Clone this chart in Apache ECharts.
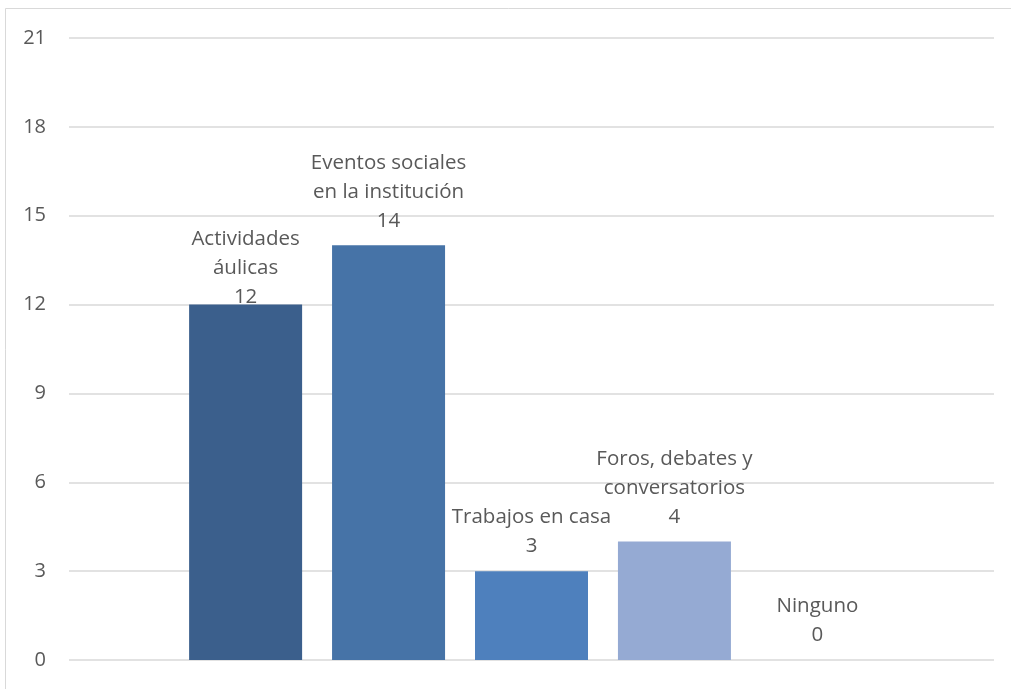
<!DOCTYPE html>
<html>
<head>
<meta charset="utf-8">
<script src="https://cdn.jsdelivr.net/npm/echarts@6/dist/echarts.min.js"></script>
<style>
  html, body { margin: 0; padding: 0; background: #fff; }
  #chart { width: 1011px; height: 689px; }
</style>
</head>
<body>
<div id="chart"></div>
<script>
// Respuestas por categoría (una serie por barra, agrupadas en una sola categoría)
const seriesNames = [
  'Actividades\náulicas',
  'Eventos sociales\nen la institución',
  'Trabajos en casa',
  'Foros, debates y\nconversatorios',
  'Ninguno'
];
const seriesValues = [12, 14, 3, 4, 0];
const barColors = ['#3b5f8c', '#4673a7', '#4e80bd', '#95aad3', '#c3cde6'];
const yTicks = { min: 0, max: 21, interval: 3 };

const chart = echarts.init(document.getElementById('chart'));

const series = seriesNames.map((name, i) => ({
  name: name,
  type: 'bar',
  data: [seriesValues[i]],
  barWidth: 113,
  barGap: '26.5%',
  itemStyle: { color: barColors[i] },
  label: {
    show: true,
    position: 'top',
    distance: 10,
    offset: i === 0 ? [0, 17] : [0, 0],
    formatter: '{a}\n{c}',
    color: '#595959',
    fontFamily: 'Open Sans',
    fontSize: 20.5,
    lineHeight: 29,
    align: 'center'
  }
}));

chart.setOption({
  animation: false,
  backgroundColor: '#ffffff',
  graphic: [{
    type: 'rect',
    shape: { x: 5.5, y: 8.5, width: 1100, height: 800 },
    style: { fill: 'none', stroke: '#d9d9d9', lineWidth: 1 },
    silent: true,
    z: -1
  }],
  grid: { left: 69, right: 17, top: 38, bottom: 29, containLabel: false },
  xAxis: {
    type: 'category',
    data: [''],
    axisLine: { show: false },
    axisTick: { show: false },
    axisLabel: { show: false }
  },
  yAxis: {
    type: 'value',
    min: yTicks.min,
    max: yTicks.max,
    interval: yTicks.interval,
    axisLine: { show: false },
    axisTick: { show: false },
    axisLabel: {
      color: '#595959',
      fontFamily: 'Open Sans',
      fontSize: 20,
      margin: 23
    },
    splitLine: { lineStyle: { color: '#d9d9d9', width: 1.5 } }
  },
  series: series
});
</script>
</body>
</html>
